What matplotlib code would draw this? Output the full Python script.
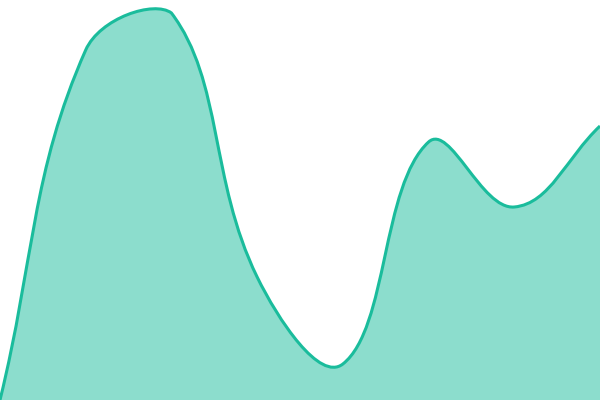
import numpy as np
import matplotlib
matplotlib.use('Agg')
import matplotlib.pyplot as plt
from matplotlib.path import Path
from matplotlib.patches import PathPatch

# chart values
labels = [0, 1, 2, 3, 4, 5, 6, 7]
values = [0, 350, 387, 123, 36, 258, 193, 274]
y_min, y_max = 0, 400

line_color = '#1abc9c'
tension = 0.4

fig = plt.figure(figsize=(6, 4), dpi=100)
ax = fig.add_axes([0, 0, 1, 1])
ax.set_xlim(labels[0], labels[-1])
ax.set_ylim(y_min, y_max)
ax.axis('off')

# spline control points in pixel space, capped to the plot area
pts = ax.transData.transform(np.column_stack([labels, values]))
bbox = ax.bbox
n = len(pts)
ctrl_prev = pts.copy()
ctrl_next = pts.copy()
for i in range(n):
    p = pts[i]
    a = pts[i - 1] if i > 0 else p
    b = pts[i + 1] if i < n - 1 else p
    d01 = np.hypot(*(p - a))
    d12 = np.hypot(*(b - p))
    tot = d01 + d12
    s01 = d01 / tot if tot else 0
    s12 = d12 / tot if tot else 0
    ctrl_prev[i] = p - tension * s01 * (b - a)
    ctrl_next[i] = p + tension * s12 * (b - a)
for c in (ctrl_prev, ctrl_next):
    c[:, 0] = np.clip(c[:, 0], bbox.x0, bbox.x1)
    c[:, 1] = np.clip(c[:, 1], bbox.y0, bbox.y1)

verts = [pts[0]]
codes = [Path.MOVETO]
for i in range(n - 1):
    verts += [ctrl_next[i], ctrl_prev[i + 1], pts[i + 1]]
    codes += [Path.CURVE4] * 3
inv = ax.transData.inverted()
verts = inv.transform(np.array(verts))

line_path = Path(verts, codes)
fill_verts = np.vstack([verts, [[labels[-1], y_min], [labels[0], y_min], verts[0]]])
fill_codes = codes + [Path.LINETO, Path.LINETO, Path.CLOSEPOLY]
fill_path = Path(fill_verts, fill_codes)

ax.add_patch(PathPatch(fill_path, facecolor=line_color, alpha=0.5, edgecolor='none'))
ax.add_patch(PathPatch(line_path, facecolor='none', edgecolor=line_color, lw=2.2, clip_on=False))

fig.savefig('out.png', dpi=100)
